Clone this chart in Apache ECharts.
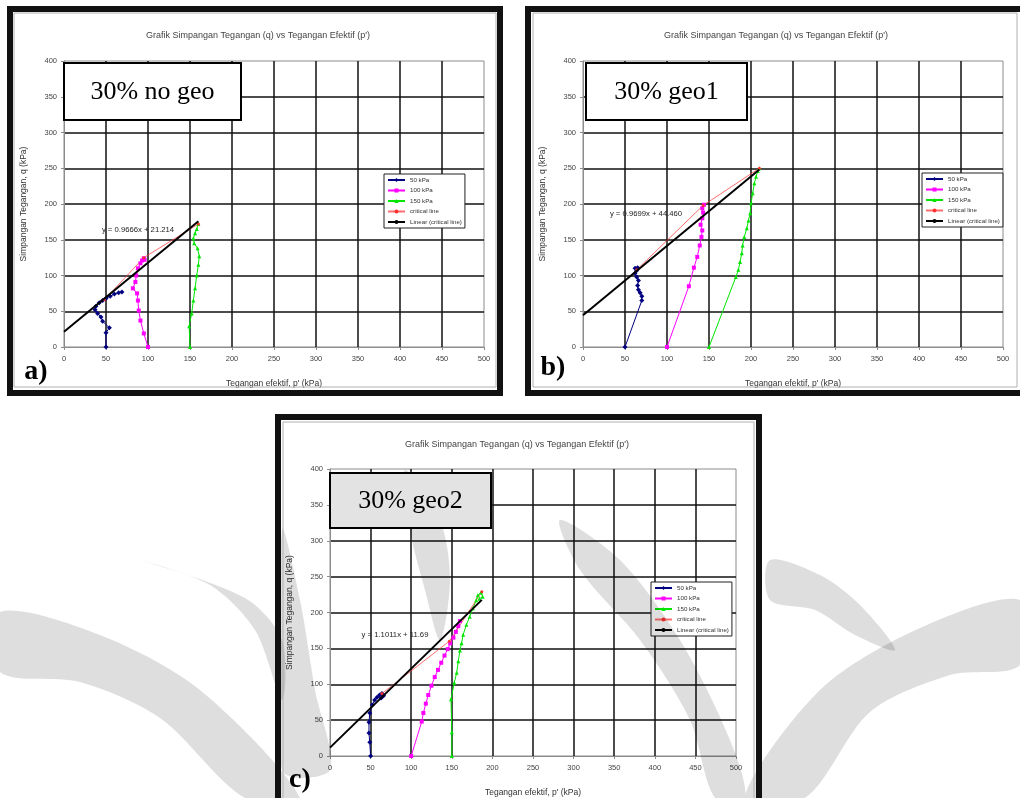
<!DOCTYPE html>
<html>
<head>
<meta charset="utf-8">
<script src="https://cdn.jsdelivr.net/npm/echarts@6/dist/echarts.min.js"></script>
<style>
html,body{margin:0;padding:0;background:#fff}
#main{width:1020px;height:798px}
</style>
</head>
<body>
<div id="main"></div>
<script>
// ---- data (p' , q) in kPa ----
var a50 = [[50,0],[50,20],[54,27],[46,36],[44,42],[40,47],[37,52],[38,57],[42,62],[46,65],[50,68],[55,71],[60,74],[65,76],[69,77]];
var a100 = [[100,0],[95,19],[91,37],[89,51],[88,65],[87,75],[82,82],[85,91],[86,100],[88,110],[91,117],[93,121],[95,124],[96,122]];
var a150 = [[150,0],[149,29],[152,47],[154,65],[156,82],[158,100],[160,115],[161,127],[159,138],[155,145],[154,152],[156,159],[158,165],[160,172]];
var aCrit = [[48,66],[95,125],[160,172]];
var aTrend = [[0,21.2],[160,175.9]];

var b50 = [[50,0],[70,65],[70,71],[68,76],[66,80],[65,86],[66,93],[64,98],[62,103],[64,107],[65,111],[62,110]];
var b100 = [[100,0],[126,85],[132,111],[136,126],[139,142],[141,154],[142,163],[140,171],[142,180],[143,188],[142,194],[144,199]];
var b150 = [[150,0],[182,98],[185,108],[187,119],[189,131],[190,142],[192,154],[195,166],[197,177],[199,187],[200,201],[202,215],[204,229],[206,238],[208,246],[210,250]];
var bCrit = [[64,108],[143,198],[210,250]];
var bTrend = [[0,44.5],[210,248.2]];

var c50 = [[50,0],[49,19],[48,32],[48,47],[49,60],[52,71],[55,78],[58,82],[61,85],[64,87],[66,84],[63,81]];
var c100 = [[100,0],[113,48],[115,60],[118,73],[121,85],[125,98],[129,110],[133,120],[137,130],[141,140],[145,149],[148,157],[152,165],[155,173],[158,181],[160,188]];
var c150 = [[150,0],[150,33],[149,79],[153,102],[156,116],[158,132],[160,147],[162,157],[164,169],[168,183],[172,194],[176,206],[180,217],[182,224],[186,228],[188,222],[184,219]];
var cCrit = [[64,87],[147,160],[187,229]];
var cTrend = [[0,11.7],[187,217.6]];

var seriesNames = ['50 kPa', '100 kPa', '150 kPa', 'critical line', 'Linear (critical line)'];
var equations = ['y = 0.9666x + 21.214', 'y = 0.9699x + 44.460', 'y = 1.1011x + 11.69'];
var panelTags = ['30% no geo', '30% geo1', '30% geo2'];
var chartTitle = "Grafik Simpangan Tegangan (q) vs Tegangan Efektif (p')";
var xName = "Tegangan efektif, p' (kPa)";
var yName = 'Simpangan Tegangan, q (kPa)';

var FONT = '"Liberation Sans", Arial, sans-serif';
var SERIF = '"Liberation Serif", "Times New Roman", serif';

var panels = [
    {grid: {left: 64, top: 61, width: 420, height: 286}, legend: {left: 384, top: 174}, title: [253, 26], eq: [138, 230],
        data: [a50, a100, a150, aCrit, aTrend]},
    {grid: {left: 583, top: 61, width: 420, height: 286}, legend: {left: 922, top: 173}, title: [771, 26], eq: [646, 214],
        data: [b50, b100, b150, bCrit, bTrend]},
    {grid: {left: 330, top: 469, width: 406, height: 288}, legend: {left: 651, top: 582}, title: [512, 435], eq: [395, 635],
        data: [c50, c100, c150, cCrit, cTrend]}
];

var styles = [
    {color: '#000080', symbol: 'diamond', symbolSize: 5, width: 1},
    {color: '#ff00ff', symbol: 'rect', symbolSize: 4, width: 1},
    {color: '#00e600', symbol: 'triangle', symbolSize: 4, width: 1},
    {color: '#ff3030', symbol: 'circle', symbolSize: 3, width: 1},
    {color: '#000000', symbol: 'none', symbolSize: 0, width: 2}
];

var grids = [], xAxes = [], yAxes = [], legends = [], titles = [], series = [];

panels.forEach(function (p, i) {
    grids.push(Object.assign({show: true, borderColor: '#8c8c8c', borderWidth: 1, backgroundColor: 'transparent'}, p.grid));
    xAxes.push({
        type: 'value', gridIndex: i, min: 0, max: 500, interval: 50,
        name: xName, nameLocation: 'middle', nameGap: 32,
        nameTextStyle: {fontFamily: FONT, fontSize: 8.5, color: '#333'},
        axisLine: {show: true, lineStyle: {color: '#8c8c8c', width: 1}},
        axisTick: {show: true, length: 3, lineStyle: {color: '#8c8c8c'}},
        axisLabel: {fontFamily: FONT, fontSize: 7.5, color: '#444', margin: 8},
        splitLine: {show: true, showMinLine: false, showMaxLine: false, lineStyle: {color: '#111', width: 1.5}}
    });
    yAxes.push({
        type: 'value', gridIndex: i, min: 0, max: 400, interval: 50,
        name: yName, nameLocation: 'middle', nameGap: 36,
        nameTextStyle: {fontFamily: FONT, fontSize: 8.5, color: '#333'},
        axisLine: {show: true, lineStyle: {color: '#8c8c8c', width: 1}},
        axisTick: {show: true, length: 3, lineStyle: {color: '#8c8c8c'}},
        axisLabel: {fontFamily: FONT, fontSize: 7.5, color: '#444', margin: 7},
        splitLine: {show: true, showMinLine: false, showMaxLine: false, lineStyle: {color: '#111', width: 1.5}}
    });
    legends.push({
        data: seriesNames, orient: 'vertical', left: p.legend.left, top: p.legend.top,
        backgroundColor: '#fff', borderColor: '#222', borderWidth: 1, padding: [3, 3, 3, 3],
        itemWidth: 17, itemHeight: 5, itemGap: 4.5, selectedMode: false,
        textStyle: {fontFamily: FONT, fontSize: 6.2, color: '#333'}
    });
    titles.push({
        text: chartTitle, left: p.title[0], top: p.title[1], textAlign: 'center',
        textStyle: {fontFamily: FONT, fontSize: 9, fontWeight: 'normal', color: '#444'}
    });
    p.data.forEach(function (d, k) {
        var st = styles[k];
        series.push({
            name: seriesNames[k], type: 'line', xAxisIndex: i, yAxisIndex: i,
            data: d, symbol: st.symbol, symbolSize: st.symbolSize, showSymbol: st.symbol !== 'none',
            itemStyle: {color: st.color}, lineStyle: {color: st.color, width: st.width, opacity: k === 3 ? 0.7 : 1},
            z: k === 4 ? 5 : 3, animation: false
        });
    });
});

var gfx = [];
// faint watermark in the lower half (rough shapes)
var wm = 'rgba(0,0,0,0.13)';
[
    [[0,612],[100,635],[200,690],[300,798],[245,798],[160,718],[80,682],[0,672]],
    [[140,560],[210,585],[255,630],[282,700],[282,640],[245,598]],
    [[1020,600],[920,628],[820,690],[745,798],[805,798],[870,712],[950,675],[1020,665]],
    [[770,560],[820,575],[860,605],[895,650],[855,635],[815,610],[770,600]],
    [[282,530],[300,600],[315,690],[330,770],[282,770]],
    [[405,470],[440,520],[450,580],[440,640],[425,590],[410,530]],
    [[560,520],[620,560],[680,640],[730,740],[745,798],[715,798],[690,720],[640,640],[580,570]]
].forEach(function (pts) {
    gfx.push({type: 'polygon', shape: {points: pts, smooth: 0.3}, style: {fill: wm}, z: 120, silent: true});
});
// dark frames round each panel
gfx.push({type: 'rect', shape: {x: 10, y: 9, width: 490, height: 384}, style: {fill: null, stroke: '#111', lineWidth: 6}, z: 200});
gfx.push({type: 'rect', shape: {x: 528, y: 9, width: 520, height: 384}, style: {fill: null, stroke: '#111', lineWidth: 6}, z: 200});
gfx.push({type: 'rect', shape: {x: 278, y: 417, width: 481, height: 400}, style: {fill: null, stroke: '#111', lineWidth: 6}, z: 200});
gfx.push({type: 'rect', shape: {x: 14, y: 13, width: 482, height: 374}, style: {fill: null, stroke: '#b0b0b0', lineWidth: 1}, z: 200});
gfx.push({type: 'rect', shape: {x: 533, y: 13, width: 484, height: 374}, style: {fill: null, stroke: '#b0b0b0', lineWidth: 1}, z: 200});
gfx.push({type: 'rect', shape: {x: 283, y: 422, width: 471, height: 390}, style: {fill: null, stroke: '#b0b0b0', lineWidth: 1}, z: 200});

// text boxes with the test names
var boxes = [[64, 63, 177, 57, '#fff'], [586, 63, 161, 57, '#fff'], [330, 473, 161, 55, '#e3e3e3']];
boxes.forEach(function (b, i) {
    gfx.push({type: 'rect', shape: {x: b[0], y: b[1], width: b[2], height: b[3]}, style: {fill: b[4], stroke: '#000', lineWidth: 2}, z: 150});
    gfx.push({type: 'text', x: b[0] + b[2] / 2, y: b[1] + b[3] / 2 + 1, z: 151,
        style: {text: panelTags[i], font: '26px ' + SERIF, fill: '#000', textAlign: 'center', textVerticalAlign: 'middle'}});
});

// trendline equations
panels.forEach(function (p, i) {
    gfx.push({type: 'text', x: p.eq[0], y: p.eq[1], z: 150,
        style: {text: equations[i], font: '7.7px ' + FONT, fill: '#222', textAlign: 'center', textVerticalAlign: 'middle'}});
});

// a) b) c)
[['a)', 36, 372], ['b)', 553, 368], ['c)', 300, 780]].forEach(function (t) {
    gfx.push({type: 'text', x: t[1], y: t[2], z: 150,
        style: {text: t[0], font: 'bold 28px ' + SERIF, fill: '#000', textAlign: 'center', textVerticalAlign: 'middle'}});
});

var myChart = echarts.init(document.getElementById('main'));
myChart.setOption({
    backgroundColor: '#fff',
    animation: false,
    title: titles,
    grid: grids,
    xAxis: xAxes,
    yAxis: yAxes,
    legend: legends,
    series: series,
    graphic: {elements: gfx}
});
</script>
</body>
</html>
